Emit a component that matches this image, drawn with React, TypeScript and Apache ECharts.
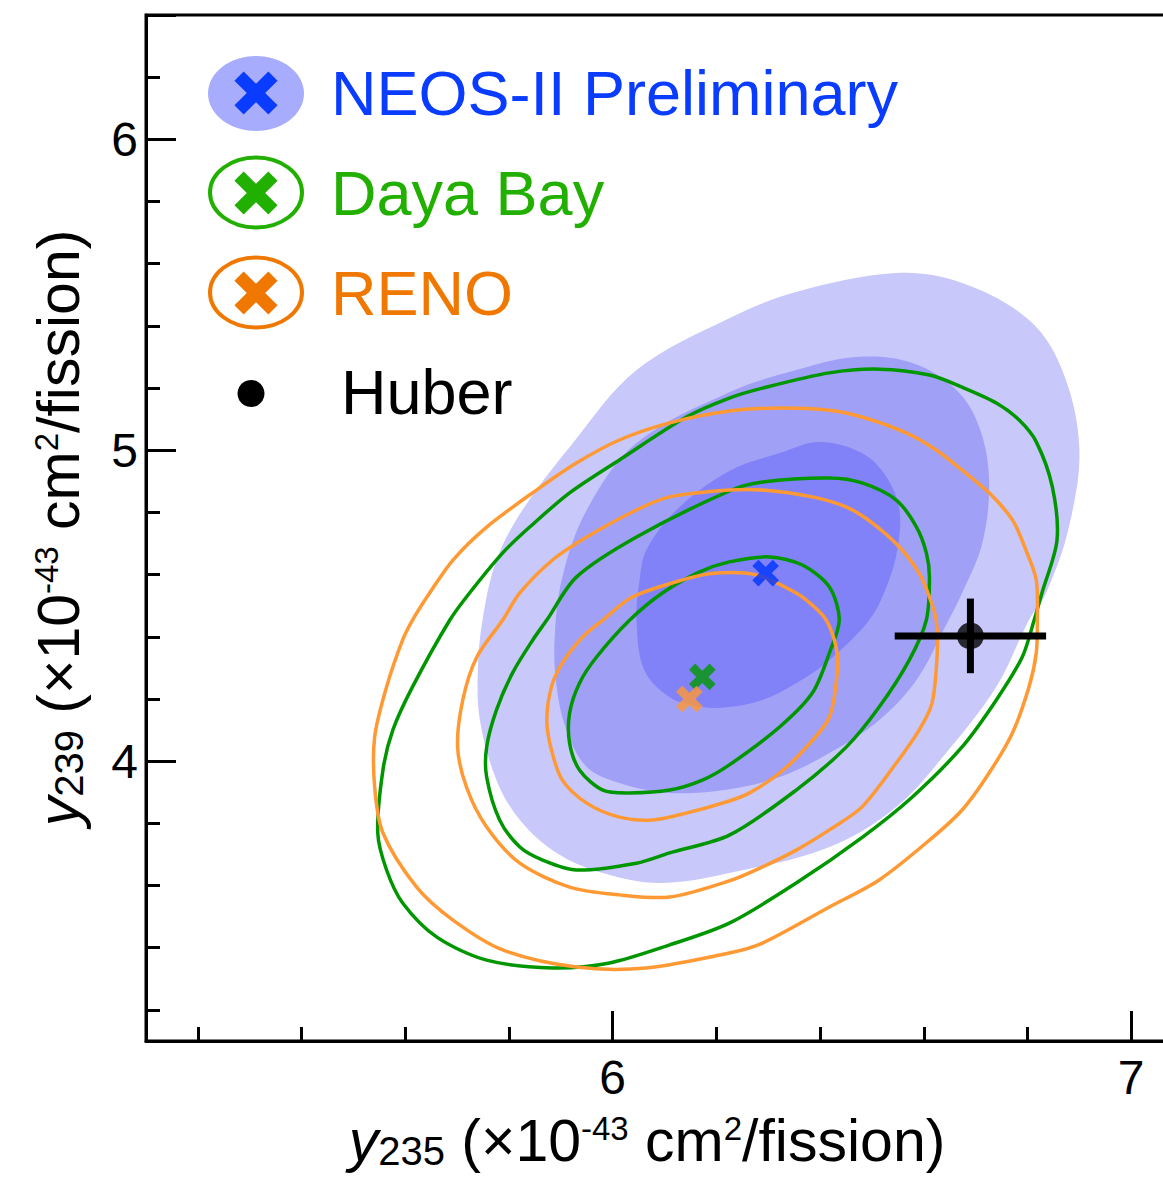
import React, { useEffect, useRef } from 'react';
import * as echarts from 'echarts';

const FONT = '"Liberation Sans", Arial, Helvetica, sans-serif';

// Axis ranges (×10^-43 cm²/fission)
const xRange = [5.1, 7.1];
const yRange = [3.1, 6.4];
const xTickLabels = ['6', '7'];
const yTickLabels = ['4', '5', '6'];

// NEOS-II shaded allowed regions (outer -> inner)
const neosOuter: number[][] = [[5.740,4.293],[5.749,4.454],[5.776,4.647],[5.826,4.808],[5.917,5.010],[6.046,5.258],[6.225,5.425],[6.354,5.509],[6.547,5.570],[6.674,5.538],[6.803,5.419],[6.867,5.258],[6.900,5.010],[6.880,4.753],[6.836,4.541],[6.803,4.454],[6.740,4.239],[6.643,4.026],[6.547,3.853],[6.418,3.724],[6.225,3.640],[6.090,3.608],[5.981,3.640],[5.892,3.705],[5.821,3.811],[5.776,3.939],[5.744,4.132]];
const neosMiddle: number[][] = [[5.888,4.390],[5.903,4.592],[5.950,4.808],[6.046,5.023],[6.225,5.187],[6.354,5.258],[6.470,5.300],[6.578,5.281],[6.663,5.194],[6.707,5.075],[6.726,4.904],[6.713,4.702],[6.674,4.541],[6.643,4.438],[6.586,4.261],[6.514,4.132],[6.418,4.026],[6.322,3.949],[6.225,3.910],[6.110,3.898],[6.013,3.930],[5.950,3.981],[5.911,4.100],[5.892,4.239]];
const neosInner: number[][] = [[6.046,4.454],[6.052,4.583],[6.065,4.679],[6.123,4.808],[6.225,4.933],[6.322,4.991],[6.399,5.027],[6.481,4.991],[6.528,4.914],[6.553,4.808],[6.549,4.679],[6.528,4.560],[6.495,4.454],[6.418,4.325],[6.354,4.251],[6.289,4.197],[6.225,4.174],[6.173,4.174],[6.110,4.206],[6.061,4.293]];

// Daya Bay contours
const dayaOuter: number[][] = [[5.686,4.454],[5.724,4.541],[5.788,4.670],[5.840,4.753],[5.917,4.863],[6.013,4.969],[6.142,5.107],[6.225,5.168],[6.289,5.200],[6.418,5.249],[6.514,5.261],[6.611,5.242],[6.674,5.203],[6.740,5.152],[6.784,5.097],[6.817,5.027],[6.848,4.882],[6.857,4.711],[6.828,4.541],[6.813,4.454],[6.790,4.335],[6.740,4.197],[6.674,4.046],[6.578,3.885],[6.482,3.756],[6.354,3.608],[6.225,3.479],[6.110,3.409],[5.994,3.351],[5.884,3.335],[5.757,3.360],[5.661,3.434],[5.595,3.544],[5.564,3.650],[5.547,3.769],[5.557,3.972],[5.576,4.100],[5.614,4.239]];
const dayaMiddle: number[][] = [[5.873,4.454],[5.930,4.592],[6.046,4.721],[6.225,4.869],[6.289,4.898],[6.418,4.911],[6.481,4.895],[6.547,4.840],[6.586,4.753],[6.605,4.670],[6.611,4.592],[6.605,4.454],[6.572,4.325],[6.514,4.174],[6.451,4.046],[6.354,3.907],[6.225,3.762],[6.110,3.705],[6.046,3.672],[5.930,3.650],[5.865,3.682],[5.821,3.724],[5.782,3.811],[5.757,3.949],[5.757,4.046],[5.776,4.165],[5.807,4.284],[5.846,4.390]];
const dayaInner: number[][] = [[6.033,4.454],[6.096,4.541],[6.167,4.608],[6.225,4.641],[6.302,4.657],[6.366,4.631],[6.418,4.560],[6.437,4.454],[6.418,4.348],[6.385,4.219],[6.322,4.110],[6.225,3.988],[6.173,3.939],[6.110,3.907],[6.033,3.898],[5.981,3.907],[5.936,3.972],[5.917,4.058],[5.917,4.155],[5.936,4.251],[5.969,4.335]];

// RENO contours
const renoOuter: number[][] = [[5.614,4.454],[5.647,4.541],[5.692,4.647],[5.757,4.753],[5.853,4.872],[5.930,4.959],[6.013,5.033],[6.110,5.088],[6.225,5.126],[6.322,5.136],[6.418,5.129],[6.481,5.107],[6.566,5.056],[6.624,5.001],[6.674,4.936],[6.726,4.863],[6.771,4.776],[6.797,4.679],[6.817,4.583],[6.819,4.454],[6.817,4.348],[6.803,4.239],[6.771,4.091],[6.726,3.962],[6.674,3.843],[6.611,3.746],[6.514,3.618],[6.418,3.531],[6.289,3.415],[6.225,3.383],[6.065,3.335],[5.930,3.338],[5.788,3.393],[5.692,3.489],[5.622,3.595],[5.557,3.769],[5.541,3.917],[5.541,4.078],[5.564,4.239],[5.595,4.390]];
const renoMiddle: number[][] = [[5.788,4.454],[5.821,4.541],[5.884,4.647],[5.950,4.721],[6.046,4.808],[6.110,4.850],[6.225,4.872],[6.289,4.872],[6.385,4.850],[6.451,4.817],[6.501,4.766],[6.553,4.689],[6.591,4.605],[6.611,4.528],[6.624,4.454],[6.626,4.348],[6.616,4.187],[6.591,4.100],[6.547,3.994],[6.481,3.853],[6.418,3.779],[6.354,3.714],[6.289,3.660],[6.225,3.615],[6.110,3.563],[6.013,3.570],[5.917,3.595],[5.821,3.672],[5.757,3.788],[5.718,3.917],[5.701,4.046],[5.711,4.197],[5.738,4.335]];
const renoInner: number[][] = [[5.981,4.454],[6.038,4.528],[6.135,4.583],[6.200,4.605],[6.277,4.599],[6.354,4.541],[6.385,4.502],[6.412,4.454],[6.431,4.367],[6.433,4.284],[6.418,4.142],[6.374,4.046],[6.322,3.962],[6.264,3.898],[6.225,3.872],[6.142,3.833],[6.077,3.811],[6.013,3.820],[5.950,3.865],[5.903,3.939],[5.882,4.036],[5.873,4.132],[5.882,4.239],[5.903,4.316],[5.942,4.399]];

// Best-fit points
const neosBest = [6.295, 4.605];
const dayaBest = [6.173, 4.271];
const renoBest = [6.148, 4.200];

// Huber prediction with uncertainties [x, y, xErr, yErr]
const huber = [6.69, 4.403, 0.146, 0.12];

const legendLabels = ['NEOS-II Preliminary', 'Daya Bay', 'RENO', 'Huber'];

const CROSS_PATH = 'path://M3.5,0H6.5V3.5H10V6.5H6.5V10H3.5V6.5H0V3.5H3.5Z';

function contour(name: string, pts: number[][], fill: string | null, stroke: string | null, smooth: number) {
  return {
    type: 'custom',
    name,
    coordinateSystem: 'cartesian2d',
    data: pts,
    encode: { x: 0, y: 1 },
    silent: true,
    clip: true,
    renderItem: (params: any, api: any) => {
      if (params.dataIndex !== 0) return null;
      const points = pts.map((p) => api.coord(p));
      return {
        type: 'polygon',
        shape: { points, smooth },
        style: fill
          ? { fill, stroke: 'none' }
          : { fill: 'none', stroke: stroke as string, lineWidth: 3.5 },
      };
    },
  };
}

function legendCross(cx: number, cy: number, color: string) {
  const a = 24;
  const h = 6.5;
  const pts = [[-h,-a],[h,-a],[h,-h],[a,-h],[a,h],[h,h],[h,a],[-h,a],[-h,h],[-a,h],[-a,-h],[-h,-h]];
  return { type: 'polygon', x: cx, y: cy, rotation: Math.PI / 4, shape: { points: pts }, style: { fill: color }, z: 100 };
}

const titleRich = {
  i: { fontStyle: 'italic', fontSize: 59, fontFamily: FONT, fill: '#000' },
  sub: { fontSize: 40, fontFamily: FONT, verticalAlign: 'bottom', fill: '#000' },
  n: { fontSize: 59, fontFamily: FONT, fill: '#000' },
  sup: { fontSize: 33, fontFamily: FONT, verticalAlign: 'top', fill: '#000' },
};

function axisTitle(sub: string) {
  return `{i|y}{sub|${sub}}{n| (×10}{sup|-43}{n| cm}{sup|2}{n|/fission)}`;
}

function legendText(text: string, x: number, y: number, color: string) {
  return {
    type: 'text', x, y, z: 100,
    style: { text, fontSize: 63, fontFamily: FONT, fill: color, align: 'left', verticalAlign: 'middle' },
  };
}

const labelFormatter = (allowed: string[]) => (v: number) => {
  const s = String(Math.round(v * 1000) / 1000);
  return allowed.includes(s) ? s : '';
};

const option: any = {
  animation: false,
  backgroundColor: '#ffffff',
  grid: { left: 146, top: 15, right: 17, bottom: 136, show: true, borderColor: '#000', borderWidth: 3, backgroundColor: 'transparent' },
  xAxis: {
    type: 'value', min: xRange[0], max: xRange[1], splitNumber: 2,
    axisLine: { show: true, onZero: false, lineStyle: { color: '#000', width: 3 } },
    axisTick: { show: true, inside: true, length: 30, lineStyle: { color: '#000', width: 3 } },
    minorTick: { show: true, splitNumber: 5, length: 14, lineStyle: { color: '#000', width: 3 } },
    splitLine: { show: false },
    axisLabel: { formatter: labelFormatter(xTickLabels), fontSize: 48, color: '#000', fontFamily: FONT, margin: 12 },
  },
  yAxis: {
    type: 'value', min: yRange[0], max: yRange[1], splitNumber: 3,
    axisLine: { show: true, onZero: false, lineStyle: { color: '#000', width: 3 } },
    axisTick: { show: true, inside: true, length: 30, lineStyle: { color: '#000', width: 3 } },
    minorTick: { show: true, splitNumber: 5, length: 14, lineStyle: { color: '#000', width: 3 } },
    splitLine: { show: false },
    axisLabel: { formatter: labelFormatter(yTickLabels), fontSize: 48, color: '#000', fontFamily: FONT, margin: 8 },
  },
  series: [
    contour('NEOS-II 3σ', neosOuter, '#c8c8fb', null, 0.35),
    contour('NEOS-II 2σ', neosMiddle, '#a0a0f7', null, 0.35),
    contour('NEOS-II 1σ', neosInner, '#8282f8', null, 0.35),
    contour('Daya Bay 3σ', dayaOuter, null, '#009600', 0.3),
    contour('Daya Bay 2σ', dayaMiddle, null, '#009600', 0.3),
    contour('Daya Bay 1σ', dayaInner, null, '#009600', 0.3),
    contour('RENO 3σ', renoOuter, null, '#ff9933', 0.3),
    contour('RENO 2σ', renoMiddle, null, '#ff9933', 0.3),
    contour('RENO 1σ', renoInner, null, '#ff9933', 0.3),
    { type: 'scatter', name: 'NEOS-II', data: [neosBest], symbol: CROSS_PATH, symbolSize: 29, symbolRotate: 45, itemStyle: { color: '#0033ff' }, z: 5 },
    { type: 'scatter', name: 'Daya Bay', data: [dayaBest], symbol: CROSS_PATH, symbolSize: 29, symbolRotate: 45, itemStyle: { color: '#009900' }, z: 5 },
    { type: 'scatter', name: 'RENO', data: [renoBest], symbol: CROSS_PATH, symbolSize: 29, symbolRotate: 45, itemStyle: { color: '#ff9933' }, z: 5 },
    {
      type: 'custom', name: 'Huber errors', coordinateSystem: 'cartesian2d', data: [huber], encode: { x: 0, y: 1 }, z: 5, silent: true,
      renderItem: (params: any, api: any) => {
        const x = api.value(0), y = api.value(1), ex = api.value(2), ey = api.value(3);
        const l = api.coord([x - ex, y]);
        const r = api.coord([x + ex, y]);
        const b = api.coord([x, y - ey]);
        const t = api.coord([x, y + ey]);
        return {
          type: 'group',
          children: [
            { type: 'line', shape: { x1: l[0], y1: l[1], x2: r[0], y2: r[1] }, style: { stroke: '#000', lineWidth: 7 } },
            { type: 'line', shape: { x1: b[0], y1: b[1], x2: t[0], y2: t[1] }, style: { stroke: '#000', lineWidth: 7 } },
          ],
        };
      },
    },
    { type: 'scatter', name: 'Huber', data: [[huber[0], huber[1]]], symbol: 'circle', symbolSize: 27, itemStyle: { color: '#000' }, z: 6 },
  ],
  graphic: [
    { type: 'ellipse', shape: { cx: 256, cy: 93.5, rx: 48, ry: 37.5 }, style: { fill: '#a8acfc' }, z: 100 },
    legendCross(256, 93, '#0a3cff'),
    { type: 'ellipse', shape: { cx: 256, cy: 192.5, rx: 46, ry: 35 }, style: { fill: 'none', stroke: '#22b000', lineWidth: 4 }, z: 100 },
    legendCross(256, 193, '#22b000'),
    { type: 'ellipse', shape: { cx: 256, cy: 292.5, rx: 46, ry: 35 }, style: { fill: 'none', stroke: '#f07800', lineWidth: 4 }, z: 100 },
    legendCross(256, 293, '#f07800'),
    { type: 'circle', shape: { cx: 251, cy: 393.5, r: 13.5 }, style: { fill: '#000' }, z: 100 },
    legendText(legendLabels[0], 331, 93, '#0a3cff'),
    legendText(legendLabels[1], 331, 193, '#22b000'),
    legendText(legendLabels[2], 331, 293, '#f07800'),
    legendText(legendLabels[3], 341, 392, '#000'),
    {
      type: 'text', x: 647, y: 1141, z: 100,
      style: { text: axisTitle('235'), rich: titleRich, fontSize: 59, fontFamily: FONT, fill: '#000', align: 'center', verticalAlign: 'middle' },
    },
    {
      type: 'text', x: 59, y: 528, rotation: Math.PI / 2, z: 100,
      style: { text: axisTitle('239'), rich: titleRich, fontSize: 59, fontFamily: FONT, fill: '#000', align: 'center', verticalAlign: 'middle' },
    },
  ],
};

export default function App() {
  const ref = useRef<HTMLDivElement>(null);
  useEffect(() => {
    if (!ref.current) return;
    const chart = echarts.init(ref.current, null, { renderer: 'svg' });
    chart.setOption(option);
    return () => chart.dispose();
  }, []);
  return (
    <div style={{ position: 'absolute', left: 0, top: 0, width: 1163, height: 1177, overflow: 'hidden', background: '#fff' }}>
      <div ref={ref} style={{ width: 1200, height: 1177 }} />
    </div>
  );
}
